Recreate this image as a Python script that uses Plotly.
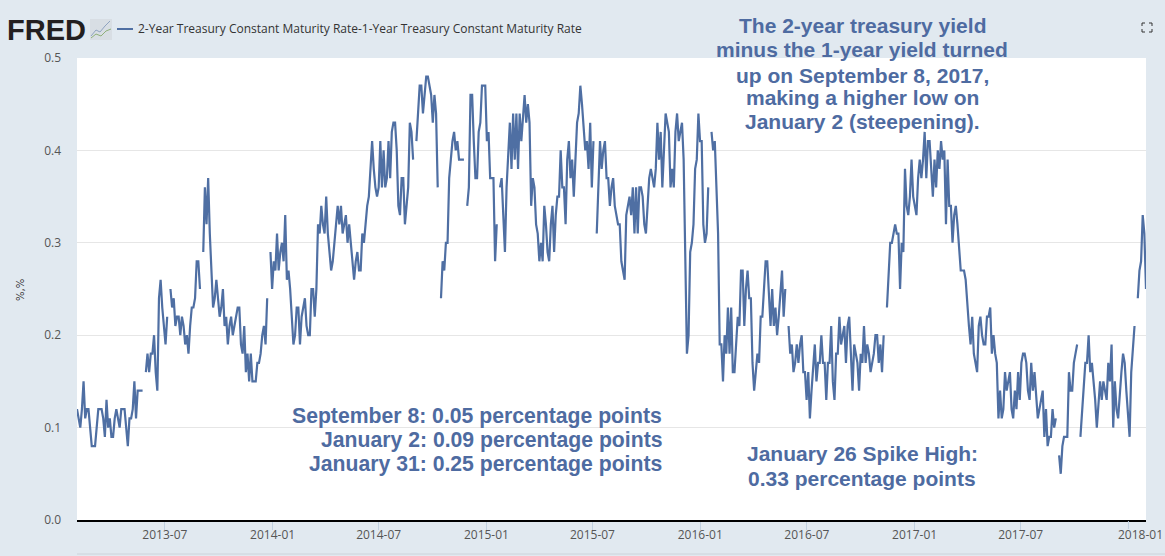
import pandas as pd
import plotly.graph_objects as go

N = None
spread_a = [.12,.11,.10,.12,.15,.11,.12,.12,.10,.08,.08,.08,.10,.12,.12,.12,.11,.09,.13,.10,
            .11,.09,.09,.11,.12,.11,.10,.12,.12,.12,.10,.08,.11,.11,.12,.15,.11,.14,.14,.14,
            .14,N,.16,.18,.16,.18,.18,.20,.16,.14,.24,.26,.23,.21,.19,.22,N,.25,.23,.24,
            .21,.22,.22,.20,.22,.21,.19,.20,.18,.21,.23,.23,.24,.28,.28,.25,N,.29,.36,.32,
            .37,.31,.26,.23,.24,.26,.24,.22,.23,.25,.21,.22,.19,.21,.22,.20,.21,.22,.23,.23,
            .19,.18,.21,.16,.18,.15,.18,.15,.15,.15,.17]
spread_b = [.17,.18,.20,.21,.19,.24,N,.29,.25,.28,.27,.31,.27,.29,.30,.28,.33,.26,.27,.25,
            .22,.19,.20,.23,.23,.19,.22,.23,.24,.21,.20,.20,.25,.25,.22,.25,.32,.31,.34,.32,
            .31,.35,.31,.29,.27,.28,.30,.32,.34,.32,.34,.31,.32,.33,.30,.32,.30,.28,.26,.28,
            .29,.27,.27,.31,.30,.32,.34,.35,.38,.41,.38,.36,.35,.36,.41,.36,.40,.36,.37,.41,
            .37,.42,.43,.43,.40,.34,.33,.37,.37,.32,.34,.36,.43,.42,.39,N,.41,.44,.47,.47,
            .44,.46,.48,.48,.47,.46,.43,.46]
spread_c = [.44,.36,N,.24,.28,.27,.30,.30,.37,.39,.41,.42,.40,.41,.39,.39,.39,.39,N,.34,
            .36,.46,.46,.41,.37,.37,.42,.43,.47,.47,.47,.41,.42,.37,.37,.37,.28,.32,N,.36,
            .37,.33,.29,.36,.40,.43,.38,.44,.39,.44,.38,.44,.41,.44,.46,.43,.45,.43,.34,.37,
            .36,.32,.31,.28,.30,.28,.34,.32,.29,.28,.32,.34,.29,.33,.35,.35,.40,.36,.36,.32,
            .39,.41,.37,.39,.35,.39,.43,.44,.47,.45,.42,.40,.41,.38,.43,.36,.41,N,.31,.36,
            .41,.38,.40,.41,.37,.37,.34,.36,.37,.34]
spread_d = [.33,.32,.32,.28,.27,.26,.33,.34,.35,.33,.36,.31,.36,.31,.36,.36,.35,.32,.31,.34,
            .37,.38,.37,.36,.38,.43,.39,.42,.36,.40,.44,.43,.42,.36,.38,.36,.42,.44,.41,.42,
            .43,.39,.28,.18,.20,.29,.30,.32,.38,.39,.44,.41,.41,.32,.30,.31,.36,N,.42,.40,
            .41,.36,.31,.19,.19,.15,.20,.18,.23,.18,.23,.16,.16,.19,.22,.21,.27,.27,.21,.25,
            .27,.24,.24,.17,.14,.16,.18,.17,.22,.22,.25,.28,.28,.25,.21,.25,.21,.23,.20,.22,
            .25,.27,.22,.25,N,.21,.18,.19,.16]
spread_e = [.17,.19,.17,.19,.20,.16,.16,.13,.16,.11,.14,.17,.19,.15,.17,.17,.20,.17,.17,.13,
            .17,.17,.21,.15,.13,.18,.18,.22,.19,.20,.21,.17,.21,.22,.17,.14,.19,.18,.17,.14,
            .18,.17,.21,.17,.19,.18,.16,.17,.18,.20,.20,.17,.19,.16,.20,N,.23,.27,.30,.30,
            .31,.32,.31,.31,.25,.30,.29,.38,.34,.33,.35,.39,.35,.34,.33,.37,.39,.37,.39,.42,
            .37,.41,.41,.38,.35,.39,.36,.40,.38,.41,.39,.40,.32,.39,.34,.34,.30,.33,.34,.32,
            .29,.27,.27,.27,.26,.23,.21,.19,.22,.18]
spread_f = [.17,.16,.21,.22,.20,.19,.19,.22,.22,.23,.18,.20,.18,.17,.11,.14,.11,.12,.16,.14,
            .15,.16,.12,.11,.14,.12,.16,.13,.17,.18,.18,.17,.14,.13,.17,.14,.16,.13,.11,.12,
            .13,.14,.09,.12,.08,.09,.09,.12,.10,.11,N,.07,.05,.08,.09,.09,.09,.16,.14,.14,
            .17,.18,.19,N,.09,.12,.14,.17,.17,.20,.16,.17,.15,.13,.10,.13,.15,.13,.15,.14,
            .13,.17,.15,.19,.10,.15,.12,.11,.14,.16,.18,.17,.14,.11,.09,.16,.19,.21,N,.24,
            .27,.28,.33,.31,.25]

spread = spread_a + spread_b + spread_c + spread_d + spread_e + spread_f
start_date = "2013-02-01"
end_date = "2018-01-31"
tick_dates = ["2013-07-01","2014-01-01","2014-07-01","2015-01-01","2015-07-01",
              "2016-01-01","2016-07-01","2017-01-01","2017-07-01"]
y_ticks = [0.0, 0.1, 0.2, 0.3, 0.4, 0.5]
series_name = "2-Year Treasury Constant Maturity Rate-1-Year Treasury Constant Maturity Rate"

W, H = 1165, 556
L, R, T, B = 77, 1146, 58, 520
BG = "#E1E9F0"
LINE = "#4F6FA3"
TXT = "#4E6BA1"

def px(x): return (x - L) / (R - L)
def py(y): return (B - y) / (B - T)

dates = pd.date_range(start_date, end_date, periods=len(spread))

fig = go.Figure(go.Scatter(x=dates, y=spread, mode="lines", name=series_name,
                           line=dict(color=LINE, width=2.2), connectgaps=False,
                           hoverinfo="skip"))

ann = []
def text(x, y, s, size, color, anchor="center", family="Liberation Sans", bold=False, angle=0):
    ann.append(dict(x=px(x), y=py(y), xref="paper", yref="paper", showarrow=False,
                    text=f"<b>{s}</b>" if bold else s, xanchor=anchor, yanchor="middle",
                    textangle=angle, font=dict(family=family, size=size, color=color)))

for y, s in [(26, "The 2-year treasury yield"), (50, "minus the 1-year yield turned"),
             (75, "up on September 8, 2017,"), (98, "making a higher low on"),
             (122, "January 2 (steepening).")]:
    text(862, y, s, 21, TXT, bold=True)
for y, s in [(416, "September 8: 0.05 percentage points"), (440, "January 2: 0.09 percentage points"),
             (464, "January 31: 0.25 percentage points")]:
    text(664, y, s, 21.2, TXT, anchor="right", bold=True)
for y, s in [(453, "January 26 Spike High:"), (478, "0.33 percentage points")]:
    text(862, y, s, 21, TXT, bold=True)
text(136, 29, series_name, 12, "#333333", anchor="left", family="Open Sans")
text(5, 30, "FRED", 29, "#231F20", anchor="left", family="Liberation Sans", bold=True)
text(20, 290, "%,%", 10, "#333333", family="DejaVu Sans", angle=-90)
text(1165, 534, "2018-01", 12, "#555555", anchor="right", family="Open Sans")

shapes = []
def seg(x0, y0, x1, y1, color, width=1):
    shapes.append(dict(type="line", xref="paper", yref="paper", x0=px(x0), y0=py(y0),
                       x1=px(x1), y1=py(y1), line=dict(color=color, width=width)))

seg(117, 29, 133, 29, LINE, 2)
seg(77, 554, 1165, 554, "#CCD3DA", 1)
shapes.append(dict(type="rect", xref="paper", yref="paper", x0=px(90), y0=py(40), x1=px(112), y1=py(19),
                   fillcolor="#D8DEE4", line=dict(width=0), layer="below"))
for pts, c in [([(91,36),(96,30),(100,32),(105,26),(110,21)], "#8FA3C0"),
               ([(91,38),(96,34),(101,36),(106,31),(111,29)], "#8FB07A")]:
    for a, b in zip(pts[:-1], pts[1:]):
        seg(a[0], a[1], b[0], b[1], c, 1)
for x, dx in [(1142, 3), (1152, -3)]:
    for y, dy in [(23, 3), (32, -3)]:
        seg(x, y, x + dx, y, "#333333", 1)
        seg(x, y, x, y + dy, "#333333", 1)
# the tick under the shifted last label
fig.add_shape(type="line", xref="x", yref="paper", x0="2018-01-01", x1="2018-01-01",
              y0=py(B + 1), y1=py(B + 9), line=dict(color="#C0D0E0", width=1))

fig.update_layout(
    width=W, height=H, autosize=False,
    paper_bgcolor=BG, plot_bgcolor="#FFFFFF", showlegend=False,
    margin=dict(l=L, r=W - R, t=T, b=H - B, pad=0, autoexpand=False),
    annotations=ann, shapes=list(fig.layout.shapes) + shapes,
    hovermode=False,
    font=dict(family="Open Sans", size=12, color="#555555"),
    xaxis=dict(type="date", range=[start_date, end_date], tickvals=tick_dates, tickformat="%Y-%m",
               showgrid=False, zeroline=False, showline=True, linecolor="#000000", linewidth=2,
               ticks="outside", ticklen=8, tickcolor="#C0D0E0", tickwidth=1, ticklabelstandoff=-5,
               tickfont=dict(family="Open Sans", size=12, color="#555555")),
    yaxis=dict(range=[0, 0.5], tickvals=y_ticks, tickformat=".1f", showgrid=True, gridcolor="#E6E6E6",
               gridwidth=1, zeroline=False, showline=False, ticks="", ticklabelstandoff=15,
               tickfont=dict(family="Open Sans", size=12, color="#555555")),
)

fig.write_html("out.html", config=dict(displayModeBar=False),
               post_script="document.body.style.margin='0';document.body.style.overflow='hidden';")
